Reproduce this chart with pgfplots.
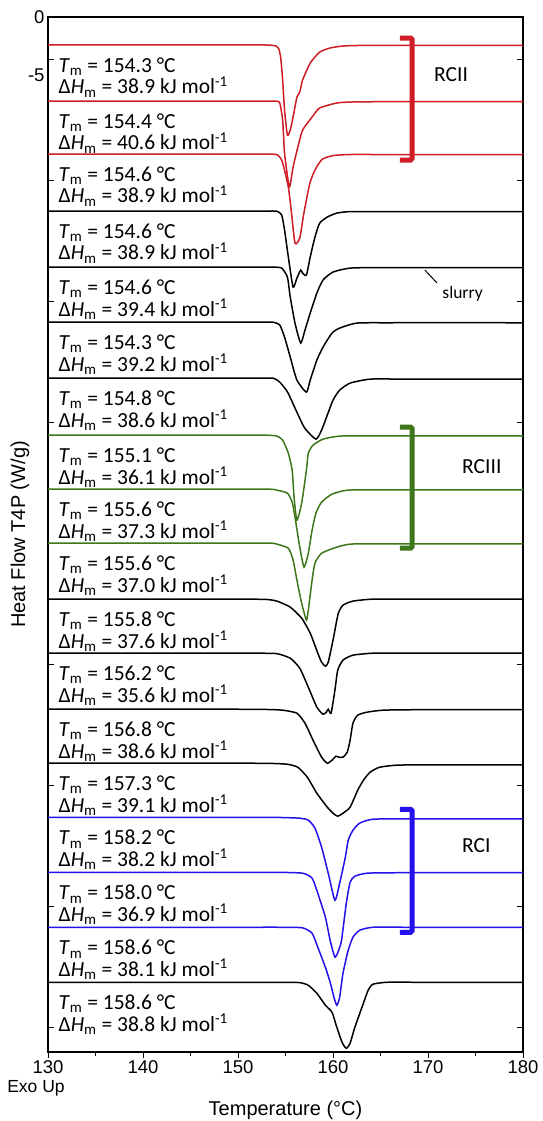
\documentclass[border=0pt]{standalone}
\usepackage{fontspec}
\setmainfont{Liberation Sans}
\newfontfamily\calib{Carlito}
\usepackage{pgfplots}
\pgfplotsset{compat=1.18}
\definecolor{cred}{RGB}{208,28,36}
\definecolor{cgreen}{RGB}{62,118,26}
\definecolor{cblue}{RGB}{36,16,235}
\newcommand{\ann}[3]{\node[anchor=west,align=left,font=\calib\fontsize{21.5}{19.5}\selectfont,inner sep=0pt] at (axis cs:131.1,#1) {\textit{T}\textsubscript{m} = #2 °C\\Δ\textit{H}\textsubscript{m} = #3 kJ mol\textsuperscript{-1}};}
\begin{document}
\begin{tikzpicture}
\begin{axis}[
 at={(0,0)}, anchor=south west,
 width=475pt, height=1035pt, scale only axis,
 xmin=130, xmax=180, ymin=-89.2, ymax=0,
 axis line style={line width=2.2pt},
 xtick={130,140,...,180}, xticklabels={130,140,150,160,170,180},
 minor xtick={135,145,...,175},
 xtick pos=left, xtick align=outside,
 major tick length=6pt, minor tick length=4pt,
 ytick={-3.62,-14.05,-24.48,-34.91,-45.34,-55.77,-66.2,-76.63,-87.06},
 yticklabels={},
 ytick align=inside, ytick pos=both,
 yticklabel pos=left,
 extra y ticks={0,-5}, extra y tick labels={0,-5}, extra y tick style={major tick length=0pt},
 tick style={line width=0.8pt, black},
 tick label style={font=\fontsize{18.5}{21}\selectfont},
 xticklabel style={yshift=1pt},
 xlabel={Temperature (°C)}, ylabel={Heat Flow T4P (W/g)},
 label style={font=\fontsize{20}{24}\selectfont},
 xlabel style={at={(axis description cs:0.5,-0.056)}, anchor=center},
 ylabel style={at={(axis description cs:-0.059,0.5)}, anchor=center},
]
% RCII (red)
\addplot[cred, line width=1.5pt, smooth, tension=0.35] coordinates {(130,-2.41) (150,-2.41) (152.5,-2.41) (153.4,-2.42) (154.0,-2.5) (154.3,-2.76) (154.5,-3.53) (154.7,-5.43) (154.9,-8.02) (155.2,-10.17) (155.5,-9.74) (155.9,-8.19) (156.2,-6.9) (156.5,-6.47) (156.8,-5.43) (157.6,-3.97) (158.6,-3.02) (159.7,-2.67) (161.05,-2.5) (163,-2.45) (168,-2.45) (180,-2.45)};
\addplot[cred, line width=1.5pt, smooth, tension=0.35] coordinates {(130,-7.24) (150,-7.24) (153,-7.24) (154.1,-7.26) (154.4,-7.41) (154.7,-8.88) (154.9,-11.72) (155.4,-14.66) (155.8,-12.93) (156.3,-11.21) (156.8,-9.74) (157.8,-8.62) (158.6,-7.84) (160.4,-7.41) (161.8,-7.33) (165,-7.3) (180,-7.3)};
\addplot[cred, line width=1.5pt, smooth, tension=0.35] coordinates {(130,-11.81) (150,-11.81) (152.5,-11.81) (153.7,-11.82) (154.2,-11.9) (154.6,-12.33) (154.9,-13.19) (155.3,-14.66) (155.6,-16.64) (156.0,-19.48) (156.5,-19.05) (156.9,-17.07) (157.3,-15.34) (157.6,-14.22) (158.0,-13.36) (158.4,-12.76) (158.9,-12.24) (160.0,-11.94) (161.8,-11.85) (165,-11.85) (180,-11.85)};
% black
\addplot[black, line width=1.5pt, smooth, tension=0.35] coordinates {(130,-16.72) (150,-16.72) (153,-16.72) (154.1,-16.74) (154.6,-17.07) (154.9,-18.36) (155.3,-20.69) (155.8,-23.28) (156.2,-22.5) (156.6,-21.81) (156.8,-22.07) (157.2,-22.24) (157.6,-20.69) (158.1,-18.97) (158.6,-17.76) (159.4,-17.24) (160.4,-16.9) (161.8,-16.77) (165,-16.77) (180,-16.77)};
\addplot[black, line width=1.5pt, smooth, tension=0.35] coordinates {(130,-21.55) (150,-21.55) (153,-21.55) (153.9,-21.56) (154.6,-21.64) (155.2,-22.41) (155.5,-24.14) (156.0,-26.38) (156.6,-28.10) (157.05,-26.98) (157.6,-25.52) (158.3,-23.79) (158.95,-22.67) (160.0,-21.98) (161.8,-21.64) (165,-21.6) (180,-21.6)};
\addplot[black, line width=1.5pt, smooth, tension=0.35] coordinates {(130,-26.29) (150,-26.29) (152.5,-26.29) (153.7,-26.3) (154.4,-26.55) (154.9,-27.59) (155.5,-29.31) (156.2,-31.29) (157.2,-32.33) (157.6,-31.29) (158.3,-29.57) (158.95,-28.45) (159.9,-27.24) (160.7,-26.81) (162.5,-26.38) (166,-26.35) (180,-26.35)};
\addplot[black, line width=1.5pt, smooth, tension=0.35] coordinates {(130,-31.12) (150,-31.12) (152.5,-31.12) (153.7,-31.13) (154.4,-31.47) (155.2,-32.3) (156.0,-33.7) (157.0,-35.4) (158.2,-36.38) (158.8,-35.6) (159.4,-34.31) (160.0,-33.02) (160.7,-32.16) (161.8,-31.55) (163.9,-31.21) (167,-31.2) (180,-31.2)};
% RCIII (green)
\addplot[cgreen, line width=1.5pt, smooth, tension=0.35] coordinates {(130,-36.03) (150,-36.03) (153,-36.04) (154.1,-36.12) (154.7,-36.47) (155.3,-37.59) (155.7,-39.05) (155.9,-41.38) (156.2,-43.36) (156.7,-41.9) (157.2,-39.05) (157.4,-37.59) (157.9,-36.9) (158.95,-36.38) (160.7,-36.12) (164,-36.1) (180,-36.1)};
\addplot[cgreen, line width=1.5pt, smooth, tension=0.35] coordinates {(130,-40.69) (150,-40.69) (153.5,-40.7) (154.1,-40.78) (155.2,-41.03) (155.7,-41.81) (156.0,-43.1) (156.5,-45.69) (156.95,-47.41) (157.4,-46.21) (157.8,-44.22) (158.2,-42.76) (158.8,-41.81) (159.9,-41.12) (161.5,-40.78) (165,-40.75) (180,-40.75)};
\addplot[cgreen, line width=1.5pt, smooth, tension=0.35] coordinates {(130,-45.34) (150,-45.34) (153.5,-45.35) (154.1,-45.43) (155.3,-45.78) (155.8,-46.81) (156.2,-48.53) (156.7,-50.52) (157.2,-51.98) (157.4,-51.12) (157.8,-48.53) (158.1,-47.07) (158.8,-46.21) (160.4,-45.69) (161.8,-45.43) (165,-45.4) (180,-45.4)};
% black
\addplot[black, line width=1.5pt, smooth, tension=0.35] coordinates {(130,-50.17) (148,-50.17) (151,-50.17) (153.05,-50.2) (154.1,-50.34) (155.5,-50.86) (156.7,-51.81) (157.6,-53.1) (158.4,-54.83) (158.8,-55.6) (159.2,-55.95) (159.5,-55.6) (160.0,-53.71) (160.4,-51.98) (160.6,-51.29) (161.05,-50.69) (162.1,-50.34) (164.2,-50.17) (168,-50.17) (180,-50.17)};
\addplot[black, line width=1.5pt, smooth, tension=0.35] coordinates {(130,-54.83) (149,-54.83) (152,-54.83) (154.1,-54.87) (155.5,-55.26) (156.5,-56.12) (157.4,-57.76) (158.3,-59.48) (158.95,-60.09) (159.3,-59.91) (159.5,-59.66) (159.8,-60.0) (160.2,-58.02) (160.5,-56.29) (161.05,-55.43) (162.1,-55.0) (164.2,-54.83) (168,-54.83) (180,-54.83)};
\addplot[black, line width=1.5pt, smooth, tension=0.35] coordinates {(130,-59.66) (150,-59.66) (153,-59.68) (154.7,-59.74) (156.2,-60.0) (157.05,-60.86) (157.9,-62.33) (158.8,-63.79) (159.4,-64.31) (159.9,-64.05) (160.3,-63.71) (160.6,-63.79) (161.05,-63.79) (161.5,-63.36) (161.8,-62.33) (162.1,-60.86) (162.6,-60.17) (163.6,-59.91) (165.3,-59.74) (169,-59.7) (180,-59.7)};
\addplot[black, line width=1.5pt, smooth, tension=0.35] coordinates {(130,-64.31) (150,-64.31) (153.5,-64.33) (155.2,-64.4) (156.3,-64.66) (157.3,-65.52) (158.3,-66.9) (159.4,-68.1) (160.0,-68.62) (160.5,-68.88) (161.05,-68.62) (161.8,-68.1) (162.6,-66.64) (163.2,-65.78) (163.9,-65.09) (164.9,-64.66) (166.7,-64.48) (170,-64.45) (180,-64.45)};
% RCI (blue)
\addplot[cblue, line width=1.5pt, smooth, tension=0.35] coordinates {(130,-68.97) (150,-68.97) (154,-68.98) (156.5,-69.05) (157.4,-69.22) (158.1,-69.91) (158.8,-71.55) (159.5,-73.79) (160.2,-76.12) (160.7,-74.66) (161.3,-72.41) (161.6,-70.95) (162.1,-70.09) (162.8,-69.48) (164.2,-69.14) (168,-69.1) (180,-69.1)};
\addplot[cblue, line width=1.5pt, smooth, tension=0.35] coordinates {(130,-73.71) (150,-73.71) (154.5,-73.72) (156.8,-73.79) (157.8,-74.22) (158.4,-75.52) (159.2,-77.59) (159.7,-79.57) (160.2,-81.03) (160.6,-80.43) (160.9,-79.57) (161.4,-76.38) (161.8,-74.57) (162.3,-74.05) (163.6,-73.79) (167,-73.75) (180,-73.75)};
\addplot[cblue, line width=1.5pt, smooth, tension=0.35] coordinates {(130,-78.45) (150,-78.45) (154.5,-78.45) (156.8,-78.5) (157.8,-78.97) (158.4,-80.17) (159.2,-81.9) (159.7,-83.19) (160.1,-84.48) (160.4,-85.17) (160.7,-84.48) (161.05,-82.41) (161.6,-80.43) (162.1,-79.31) (162.8,-78.71) (164.2,-78.45) (168,-78.45) (180,-78.45)};
% black
\addplot[black, line width=1.5pt, smooth, tension=0.35] coordinates {(130,-83.19) (150,-83.19) (154.5,-83.19) (156.5,-83.22) (157.4,-83.45) (158.3,-84.14) (159.2,-85.17) (159.9,-85.78) (160.4,-87.07) (160.95,-88.36) (161.4,-88.88) (161.8,-88.45) (162.3,-87.07) (163.2,-85.0) (163.7,-83.88) (164.2,-83.36) (165.7,-83.19) (169,-83.19) (180,-83.19)};
% annotations
\ann{-5.21}{154.3}{38.9}
\ann{-10.04}{154.4}{40.6}
\ann{-14.61}{154.6}{38.9}
\ann{-19.52}{154.6}{38.9}
\ann{-24.35}{154.6}{39.4}
\ann{-29.09}{154.3}{39.2}
\ann{-33.92}{154.8}{38.6}
\ann{-38.83}{155.1}{36.1}
\ann{-43.49}{155.6}{37.3}
\ann{-48.14}{155.6}{37.0}
\ann{-52.97}{155.8}{37.6}
\ann{-57.63}{156.2}{35.6}
\ann{-62.46}{156.8}{38.6}
\ann{-67.11}{157.3}{39.1}
\ann{-71.77}{158.2}{38.2}
\ann{-76.51}{158.0}{36.9}
\ann{-81.25}{158.6}{38.1}
\ann{-85.99}{158.6}{38.8}
% brackets
\draw[cred,line width=5pt,rounded corners=1.5pt] (axis cs:167.05,-1.81) -- (axis cs:168.32,-1.81) -- (axis cs:168.32,-12.33) -- (axis cs:167.05,-12.33);
\draw[cgreen,line width=5pt,rounded corners=1.5pt] (axis cs:167.05,-35.34) -- (axis cs:168.32,-35.34) -- (axis cs:168.32,-45.78) -- (axis cs:167.05,-45.78);
\draw[cblue,line width=5pt,rounded corners=1.5pt] (axis cs:167.05,-68.28) -- (axis cs:168.32,-68.28) -- (axis cs:168.32,-78.88) -- (axis cs:167.05,-78.88);
\node[anchor=west,font=\calib\fontsize{21.5}{24}\selectfont,inner sep=0pt] at (axis cs:170.63,-5.0) {RCII};
\node[anchor=west,font=\calib\fontsize{21.5}{24}\selectfont,inner sep=0pt] at (axis cs:173.58,-38.79) {RCIII};
\node[anchor=west,font=\calib\fontsize{21.5}{24}\selectfont,inner sep=0pt] at (axis cs:173.58,-71.38) {RCI};
% slurry
\draw[black,line width=1pt] (axis cs:169.68,-21.81) -- (axis cs:170.95,-22.93);
\node[anchor=west,font=\calib\fontsize{17.5}{20}\selectfont,inner sep=0pt] at (axis cs:171.5,-23.9) {slurry};
\end{axis}
\node[font=\fontsize{17.5}{20}\selectfont] at (-12pt,-36pt) {Exo Up};
\pgfresetboundingbox
\path (-48pt,-69pt) rectangle (494pt,1052pt);
\end{tikzpicture}
\end{document}
